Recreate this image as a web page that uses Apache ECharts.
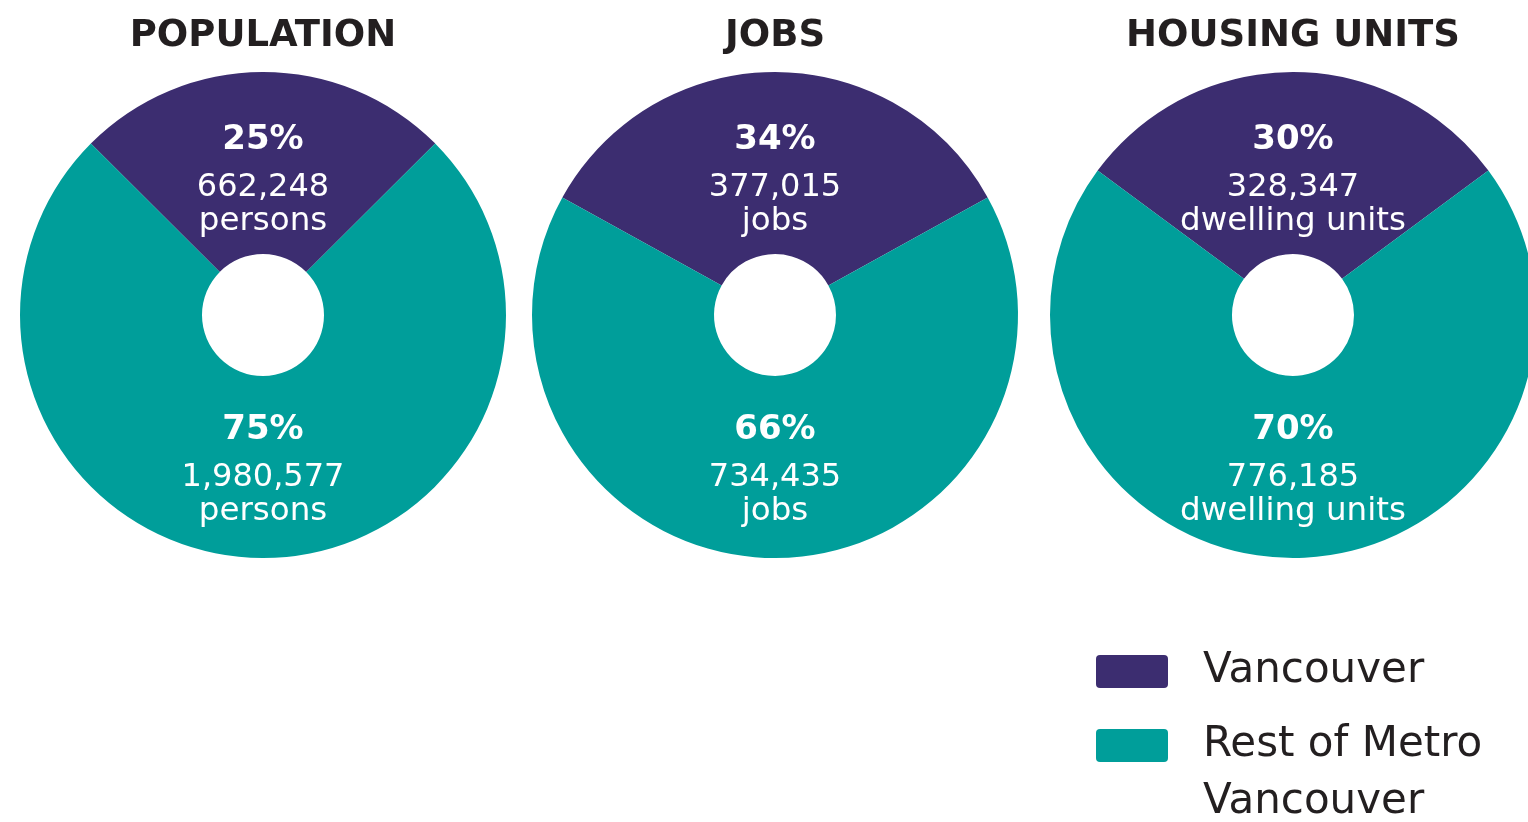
<!DOCTYPE html>
<html>
<head>
<meta charset="utf-8">
<script src="https://cdn.jsdelivr.net/npm/echarts@6/dist/echarts.min.js"></script>
<style>
  html, body { margin: 0; padding: 0; background: #ffffff; }
  #chart { width: 1528px; height: 822px; }
</style>
</head>
<body>
<div id="chart"></div>
<script>
// ---- data ----
const categories = ['Vancouver', 'Rest of Metro Vancouver'];
const chartTitles = ['POPULATION', 'JOBS', 'HOUSING UNITS'];
const populationValues = [662248, 1980577];
const jobsValues = [377015, 734435];
const housingValues = [328347, 776185];
const unitLabels = ['persons', 'jobs', 'dwelling units'];
const colors = ['#3c2d70', '#009e9a'];

// ---- layout ----
const centersX = [263, 775, 1293];
const centerY = 315;
const innerR = 61, outerR = 243;
const FONT = 'DejaVu Sans';
const allValues = [populationValues, jobsValues, housingValues];

function fmt(n) { return n.toLocaleString('en-US'); }

const series = allValues.map((vals, i) => {
  const total = vals[0] + vals[1];
  const share = vals[0] / total;
  return {
    type: 'pie',
    name: chartTitles[i],
    center: [centersX[i], centerY],
    radius: [innerR, outerR],
    startAngle: 90 + share * 180,
    clockwise: true,
    silent: true,
    animation: false,
    itemStyle: { borderWidth: 0 },
    labelLine: { show: false },
    label: {
      show: true,
      position: 'inside',
      color: '#ffffff',
      fontFamily: FONT,
      formatter: function (p) {
        const pct = Math.round(p.value / total * 100);
        return '{p|' + pct + '%}\n{n|' + fmt(p.value) + '}\n{u|' + unitLabels[i] + '}';
      },
      rich: {
        p: { fontSize: 34, fontWeight: 'bold', lineHeight: 64, color: '#ffffff', fontFamily: FONT },
        n: { fontSize: 32, lineHeight: 32, color: '#ffffff', fontFamily: FONT },
        u: { fontSize: 32.5, lineHeight: 36, color: '#ffffff', fontFamily: FONT }
      }
    },
    labelLayout: function (params) {
      return { dy: params.dataIndex === 0 ? 14 : -6 };
    },
    data: categories.map((c, k) => ({ name: c, value: vals[k] }))
  };
});

const titles = chartTitles.map((t, i) => ({
  text: t,
  left: centersX[i],
  top: 15,
  textAlign: 'center',
  padding: 0,
  textStyle: { fontFamily: FONT, fontWeight: 'bold', fontSize: 37, color: '#231f20', lineHeight: 42 }
}));

const iconPath = 'path://M4,0H68Q72,0 72,4V29Q72,33 68,33H4Q0,33 0,29V4Q0,0 4,0Z';

const option = {
  backgroundColor: '#ffffff',
  animation: false,
  color: colors,
  title: titles,
  legend: [
    {
      data: [categories[0]],
      orient: 'vertical',
      left: 1096,
      top: 643,
      padding: 0,
      itemWidth: 72,
      itemHeight: 33,
      icon: iconPath,
      selectedMode: false,
      textStyle: { fontFamily: FONT, fontSize: 42, color: '#231f20', lineHeight: 57, padding: [0, 0, 0, 30] }
    },
    {
      data: [categories[1]],
      orient: 'vertical',
      left: 1096,
      top: 660,
      padding: 0,
      itemWidth: 72,
      itemHeight: 33,
      icon: iconPath,
      selectedMode: false,
      // leading empty line keeps the first text line level with the swatch
      formatter: function (name) { return '\n' + name.replace('Metro ', 'Metro\n'); },
      textStyle: { fontFamily: FONT, fontSize: 42, color: '#231f20', lineHeight: 57, padding: [0, 0, 0, 30] }
    }
  ],
  series: series
};

const chart = echarts.init(document.getElementById('chart'), null, { renderer: 'canvas' });
chart.setOption(option);
</script>
</body>
</html>
